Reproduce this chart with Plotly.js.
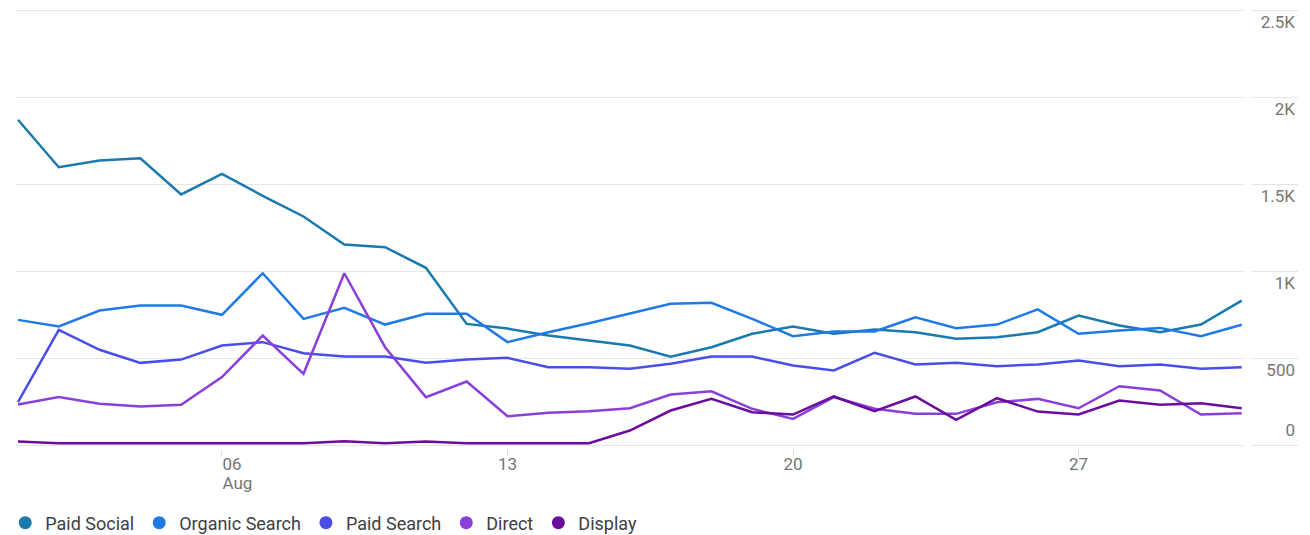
<!DOCTYPE html>
<html>
<head>
<meta charset="utf-8">
<script src="https://cdn.plot.ly/plotly-3.0.1.min.js"></script>
<style>html,body{margin:0;padding:0;background:#fff;}#chart{width:1310px;height:535px;}</style>
</head>
<body>
<div id="chart"></div>
<script>
// Dates (August, daily)
const dates = ["2023-08-01","2023-08-02","2023-08-03","2023-08-04","2023-08-05","2023-08-06","2023-08-07","2023-08-08","2023-08-09","2023-08-10","2023-08-11","2023-08-12","2023-08-13","2023-08-14","2023-08-15","2023-08-16","2023-08-17","2023-08-18","2023-08-19","2023-08-20","2023-08-21","2023-08-22","2023-08-23","2023-08-24","2023-08-25","2023-08-26","2023-08-27","2023-08-28","2023-08-29","2023-08-30","2023-08-31"];

const paidSocial    = [1872,1599,1638,1651,1443,1561,1435,1316,1155,1140,1021,699,672,632,603,575,511,565,642,684,642,667,651,613,622,651,747,690,651,695,833];
const organicSearch = [722,684,776,805,805,751,990,728,791,695,757,757,594,651,703,760,814,820,728,628,655,655,737,674,695,782,642,661,676,628,694];
const paidSearch    = [249,665,550,475,494,575,594,530,511,511,475,494,504,450,450,441,470,511,511,460,431,533,466,475,456,466,488,456,466,441,450];
const direct        = [236,278,240,224,234,393,632,412,990,565,278,368,168,188,197,214,293,312,211,153,278,211,182,182,249,268,214,341,316,178,186];
const display       = [23,13,13,13,13,13,13,13,25,13,23,13,13,13,13,86,201,268,191,178,282,197,282,148,272,195,178,259,234,243,214];

const seriesNames = ["Paid Social","Organic Search","Paid Search","Direct","Display"];
const seriesData  = [paidSocial, organicSearch, paidSearch, direct, display];
const seriesColors = ["#1a7aae","#1f7ae6","#4a4ee8","#8a40d8","#6c0c9c"];

const xTickVals = ["2023-08-06","2023-08-13","2023-08-20","2023-08-27"];
const xTickText = ["","13","20","27"];
const firstTickText = ["06"];
const monthTickText = ["Aug"];
const yTickVals = [0,500,1000,1500,2000,2500];
const yTickText = ["","500","1K","1.5K","2K","2.5K"];

const xRange = ["2023-07-31 22:50", "2023-09-01 09:07"];
const yRange = [-20, 2520];
const tickFont = {size: 17, color: "#757575"};

const traces = [];
seriesNames.forEach((n, i) => {
  traces.push({
    x: dates, y: seriesData[i], type: "scatter", mode: "lines", name: n,
    line: {color: seriesColors[i], width: 2.5}, showlegend: false, hoverinfo: "x+y+name"
  });
});
seriesNames.forEach((n, i) => {
  traces.push({
    x: [null], y: [null], type: "scatter", mode: "markers", name: n,
    marker: {color: seriesColors[i], size: 13, symbol: "circle"}, showlegend: true
  });
});
// empty carriers for the extra label axes
traces.push({x: [null], y: [null], yaxis: "y2", showlegend: false, type: "scatter", mode: "lines"});
traces.push({x: [null], y: [null], xaxis: "x2", showlegend: false, type: "scatter", mode: "lines"});
traces.push({x: [null], y: [null], xaxis: "x3", showlegend: false, type: "scatter", mode: "lines"});

const layout = {
  width: 1310, height: 535,
  margin: {l: 16, r: 12, t: 7, b: 86},
  paper_bgcolor: "#fff", plot_bgcolor: "#fff",
  font: {family: "Roboto, 'Noto Sans', sans-serif", size: 17, color: "#757575"},
  xaxis: {
    type: "date", range: xRange,
    tickvals: xTickVals, ticktext: xTickText,
    showgrid: false, zeroline: false, showline: false,
    ticks: "outside", ticklen: 6, tickcolor: "#dadada", tickwidth: 1,
    ticklabelposition: "outside right", ticklabelshift: -10,
    tickfont: tickFont, fixedrange: true
  },
  xaxis2: {
    type: "date", range: xRange, overlaying: "x", anchor: "y", side: "bottom",
    tickvals: [xTickVals[0]], ticktext: firstTickText,
    showgrid: false, zeroline: false, showline: false,
    ticks: "outside", ticklen: 6, tickcolor: "#dadada", tickwidth: 1,
    ticklabelposition: "outside right",
    tickfont: tickFont, fixedrange: true
  },
  xaxis3: {
    type: "date", range: xRange, overlaying: "x", anchor: "y", side: "bottom",
    tickvals: [xTickVals[0]], ticktext: monthTickText,
    showgrid: false, zeroline: false, showline: false,
    ticks: "outside", ticklen: 6, tickcolor: "#dadada", tickwidth: 1,
    ticklabelposition: "outside right", ticklabelstandoff: 19,
    tickfont: tickFont, fixedrange: true
  },
  yaxis: {
    side: "right", range: yRange,
    tickvals: yTickVals, ticktext: yTickText,
    showgrid: true, gridcolor: "#e6e6e6", gridwidth: 1,
    zeroline: false, showline: false, ticks: "",
    ticklabelposition: "inside", ticklabelshift: 12,
    tickfont: tickFont, fixedrange: true
  },
  yaxis2: {
    overlaying: "y", side: "right", range: yRange,
    tickvals: [0], ticktext: ["0"],
    showgrid: false, zeroline: false, showline: false, ticks: "",
    ticklabelposition: "inside", ticklabelshift: -15,
    tickfont: tickFont, fixedrange: true
  },
  shapes: [{
    type: "rect", xref: "paper", yref: "paper", layer: "above",
    x0: 0.958, x1: 0.9635, y0: -0.02, y1: 1.02,
    fillcolor: "#ffffff", line: {width: 0}
  }],
  legend: {
    orientation: "h", xref: "container", yref: "container",
    x: 0.004, xanchor: "left", y: 0.0224, yanchor: "middle",
    font: {size: 18, color: "#3c4043"},
    itemclick: false, itemdoubleclick: false,
    tracegroupgap: 0
  },
  hovermode: "x"
};

Plotly.newPlot("chart", traces, layout, {displayModeBar: false});
</script>
</body>
</html>
